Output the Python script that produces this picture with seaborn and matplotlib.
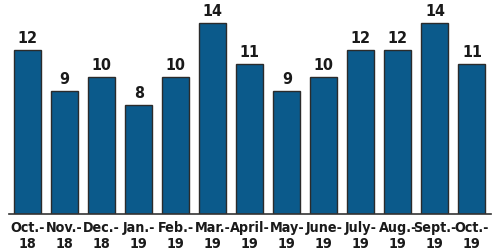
import matplotlib
matplotlib.use("Agg")
import matplotlib.pyplot as plt
import seaborn as sns
import pandas as pd

months = ["Oct.-\n18", "Nov.-\n18", "Dec.-\n18", "Jan.-\n19", "Feb.-\n19", "Mar.-\n19",
          "April-\n19", "May-\n19", "June-\n19", "July-\n19", "Aug.-\n19", "Sept.-\n19", "Oct.-\n19"]
values = [12, 9, 10, 8, 10, 14, 11, 9, 10, 12, 12, 14, 11]

df = pd.DataFrame({"month": months, "value": values})

sns.set_theme(style="white")
plt.rcParams['font.family'] = ['DejaVu Sans']
plt.rcParams['font.stretch'] = 'condensed'

fig = plt.figure(figsize=(5, 2.53), dpi=100)
ax = fig.add_axes([9/500, 38/253, 481.5/500, 215/253])
sns.barplot(data=df, x="month", y="value", color="#0b5a8b", saturation=1,
            width=0.73, edgecolor="#2b2b2b", linewidth=1.0, ax=ax)

for i, v in enumerate(values):
    ax.text(i, v + 0.38, str(v), ha="center", va="bottom", fontsize=11.5,
            fontweight="bold", fontstretch="condensed", color="#1a1a1a")

ax.set_xlim(-0.5, 12.5)
ax.set_ylim(0, 215/13.66)
ax.set_xlabel("")
ax.set_ylabel("")
ax.set_yticks([])
for s in ["top", "right", "left"]:
    ax.spines[s].set_visible(False)
ax.spines["bottom"].set_color("#333333")
ax.spines["bottom"].set_linewidth(1.2)
ax.tick_params(axis="x", length=0, pad=4)
for lab in ax.get_xticklabels():
    lab.set_fontsize(10.3)
    lab.set_fontweight("bold")
    lab.set_fontstretch("condensed")
    lab.set_color("#1a1a1a")
    lab.set_linespacing(1.2)

fig.savefig("out.png", dpi=100)
